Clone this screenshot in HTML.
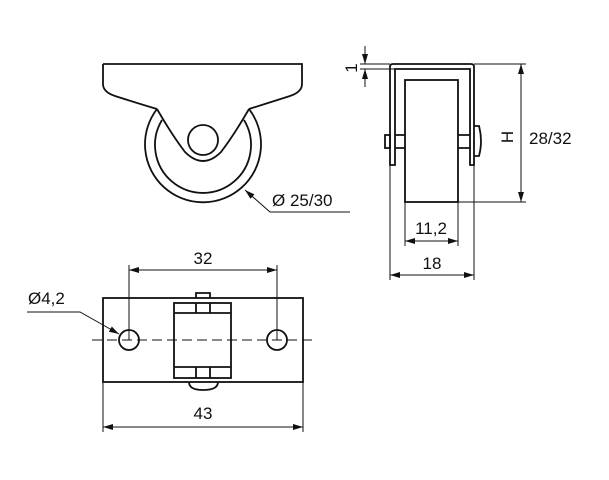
<!DOCTYPE html>
<html><head><style>body{margin:0;background:#fff}svg{display:block}text{font-family:"Liberation Sans",sans-serif;font-size:17px;fill:#111}</style></head>
<body>
<svg width="609" height="480" viewBox="0 0 609 480">
<defs>
<marker id="a" viewBox="0 0 10 6" refX="10" refY="3" markerWidth="10" markerHeight="6" orient="auto-start-reverse" markerUnits="userSpaceOnUse"><path d="M0,0L10,3L0,6z" fill="#111"/></marker>
</defs>
<g fill="none" stroke="#111" stroke-width="1.8">
<!-- front view -->
<path d="M103,64 H302 V84 Q302,92 290,96 Q265,104 249,109"/>
<path d="M103,64 V84 Q103,92 115,96 Q140,104 157,109"/>
<path d="M157,109 A58,58 0 1 0 249,109"/>
<path d="M162,120 A48,48 0 1 0 244,120"/>
<path d="M157,109 Q172,135 185,152 Q203,170 221,152 Q234,135 249,109"/>
<circle cx="203" cy="140" r="15"/>
</g>
<g stroke="#111" stroke-width="1" fill="none">
<path d="M245,190 L270,212 H350" marker-start="url(#a)"/>
</g>
<text x="272" y="206">Ø  25/30</text>

<!-- side view -->
<g fill="none" stroke="#111" stroke-width="1.8">
<path d="M390,165 V67 Q390,64 393,64 H471 Q474,64 474,67 V165 H470 V69 H395 V165 Z"/>
<rect x="405" y="80" width="53" height="122"/>
<rect x="385" y="135" width="5" height="13"/>
<path d="M395,135 H405 M395,148 H405 M470,135 H458 M470,148 H458"/>
<path d="M474,126 H479 Q483,141 479,156 H474"/>
</g>
<g stroke="#111" stroke-width="1" fill="none">
<path d="M365,46 V64" marker-end="url(#a)"/>
<path d="M365,87 V69" marker-end="url(#a)"/>
<path d="M360,64 H390 M360,69 H395"/>
<path d="M474,64 H526 M458,202 H526"/>
<path d="M521,64 V202" marker-start="url(#a)" marker-end="url(#a)"/>
<path d="M405,202 V246 M458,202 V246"/>
<path d="M405,241 H458" marker-start="url(#a)" marker-end="url(#a)"/>
<path d="M390,165 V280 M474,165 V280"/>
<path d="M390,275 H474" marker-start="url(#a)" marker-end="url(#a)"/>
</g>
<text x="0" y="0" transform="translate(357,68) rotate(-90)" text-anchor="middle">1</text>
<text x="0" y="0" transform="translate(513,137) rotate(-90)" text-anchor="middle">H</text>
<text x="529" y="144">28/32</text>
<text x="431" y="234" text-anchor="middle">11,2</text>
<text x="432" y="269" text-anchor="middle">18</text>

<!-- bottom view -->
<g fill="none" stroke="#111" stroke-width="1.8">
<rect x="103" y="298" width="200" height="84"/>
<circle cx="129" cy="340" r="10"/>
<circle cx="277" cy="340" r="10"/>
<rect x="174" y="303" width="57" height="75"/>
<path d="M174,313 H231 M174,367 H231 M196,303 V313 M210,303 V313 M196,367 V378 M210,367 V378"/>
<path d="M196,298 V293 H210 V298"/>
<path d="M189,382 Q189,390 203,390 Q218,390 218,382"/>
</g>
<g stroke="#111" stroke-width="1" fill="none">
<path d="M92,340 H316" stroke-dasharray="10,5"/>
<path d="M129,340 V265 M277,340 V265"/>
<path d="M129,270 H277" marker-start="url(#a)" marker-end="url(#a)"/>
<path d="M103,382 V432 M303,382 V432"/>
<path d="M103,427 H303" marker-start="url(#a)" marker-end="url(#a)"/>
<path d="M27,312 H80 L119,334" marker-end="url(#a)"/>
</g>
<text x="203" y="264" text-anchor="middle">32</text>
<text x="203" y="419" text-anchor="middle">43</text>
<text x="28" y="304">Ø4,2</text>
</svg>
</body></html>
